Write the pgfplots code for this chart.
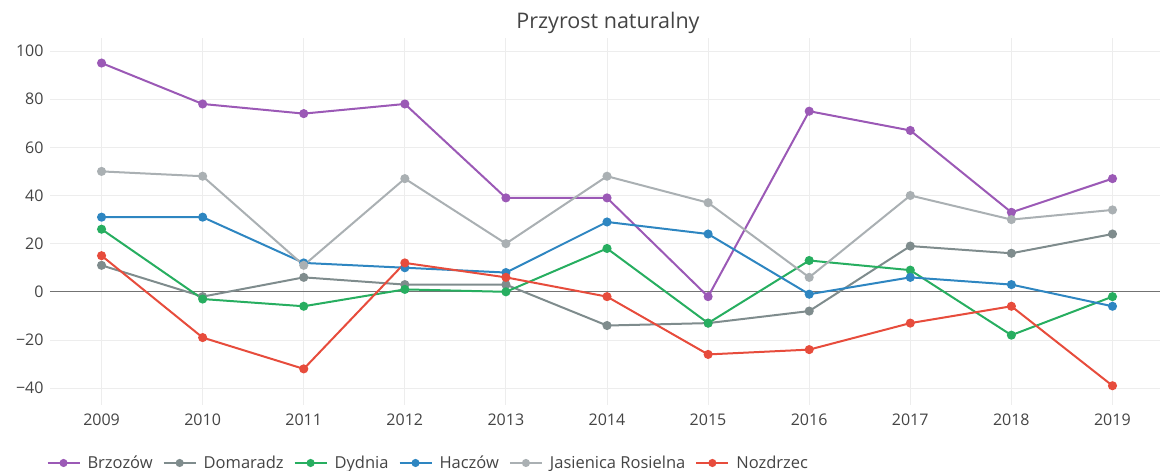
\documentclass[border=0pt]{standalone}
\usepackage{pgfplots}
\pgfplotsset{compat=1.18}
\usepackage{fontspec}
\setmainfont{Open Sans}

\definecolor{brz}{HTML}{9B59B6}
\definecolor{dom}{HTML}{7F8C8D}
\definecolor{dyd}{HTML}{27AE60}
\definecolor{hac}{HTML}{2E86C1}
\definecolor{jas}{HTML}{AAB0B3}
\definecolor{noz}{HTML}{E74C3C}
\definecolor{txt}{HTML}{444444}

\begin{document}
\begin{tikzpicture}[x=1pt,y=1pt]
  \path[use as bounding box] (0,0) rectangle (1163,471);
  \node[font=\fontsize{21.5}{24}\selectfont, text=txt] at (608,448) {Przyrost naturalny};
  \begin{axis}[
      at={(50pt,66pt)}, anchor=south west,
      scale only axis, width=1110pt, height=367pt,
      xmin=2008.49, xmax=2019.47, ymin=-47, ymax=105.4,
      xtick={2009,...,2019}, ytick={-40,-20,0,20,40,60,80,100},
      yticklabels={−40,−20,0,20,40,60,80,100},
      xticklabel style={/pgf/number format/1000 sep={}, yshift=-5pt},
      yticklabel style={xshift=-3pt},
      /pgf/number format/assume math mode=true,
      tick label style={font=\fontsize{16}{18}\selectfont, text=txt},
      axis line style={draw=none}, tick style={draw=none},
      grid=major, grid style={line width=0.8pt, draw=black!7},
      clip=false,
      every axis plot/.append style={line width=2pt, mark=*, mark size=3.5pt},
      legend style={at={(-0.006,-0.158)}, anchor=west, draw=none, fill=none,
        legend columns=-1, font=\fontsize{16.5}{18}\selectfont, text=txt,
        /tikz/every odd column/.append style={column sep=5pt},
        /tikz/every even column/.append style={column sep=8pt}},
      legend image code/.code={
        \draw[#1, mark=none] (0pt,0pt) -- (32pt,0pt);
        \fill[#1] (16pt,0pt) circle (3pt);},
    ]
    \addplot[black!55, line width=1.2pt, mark=none, forget plot] coordinates {(2008.49,0) (2019.47,0)};
    \addplot[brz, mark options={fill=brz, draw=brz}] coordinates {
      (2009,95) (2010,78) (2011,74) (2012,78) (2013,39) (2014,39)
      (2015,-2) (2016,75) (2017,67) (2018,33) (2019,47)};
    \addlegendentry{Brzozów}
    \addplot[dom, mark options={fill=dom, draw=dom}] coordinates {
      (2009,11) (2010,-2) (2011,6) (2012,3) (2013,3) (2014,-14)
      (2015,-13) (2016,-8) (2017,19) (2018,16) (2019,24)};
    \addlegendentry{Domaradz}
    \addplot[dyd, mark options={fill=dyd, draw=dyd}] coordinates {
      (2009,26) (2010,-3) (2011,-6) (2012,1) (2013,0) (2014,18)
      (2015,-13) (2016,13) (2017,9) (2018,-18) (2019,-2)};
    \addlegendentry{Dydnia}
    \addplot[hac, mark options={fill=hac, draw=hac}] coordinates {
      (2009,31) (2010,31) (2011,12) (2012,10) (2013,8) (2014,29)
      (2015,24) (2016,-1) (2017,6) (2018,3) (2019,-6)};
    \addlegendentry{Haczów}
    \addplot[jas, mark options={fill=jas, draw=jas}] coordinates {
      (2009,50) (2010,48) (2011,11) (2012,47) (2013,20) (2014,48)
      (2015,37) (2016,6) (2017,40) (2018,30) (2019,34)};
    \addlegendentry{Jasienica Rosielna}
    \addplot[noz, mark options={fill=noz, draw=noz}] coordinates {
      (2009,15) (2010,-19) (2011,-32) (2012,12) (2013,6) (2014,-2)
      (2015,-26) (2016,-24) (2017,-13) (2018,-6) (2019,-39)};
    \addlegendentry{Nozdrzec}
  \end{axis}
\end{tikzpicture}
\end{document}
